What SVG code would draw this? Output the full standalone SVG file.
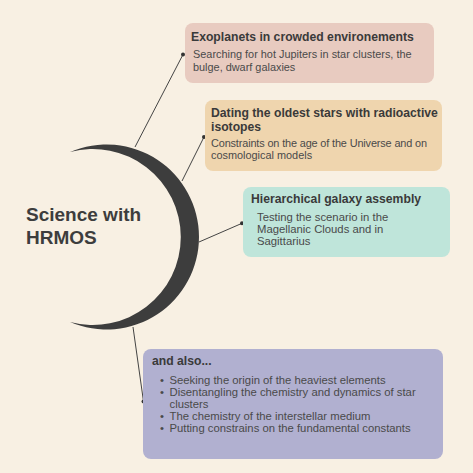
<svg xmlns="http://www.w3.org/2000/svg" width="473" height="473" viewBox="0 0 473 473">
<style>
.t{font-family:"Liberation Sans",Arial,sans-serif;font-weight:bold;font-size:12.2px;fill:#3a3a3a}
.b{font-family:"Liberation Sans",Arial,sans-serif;font-size:11.3px;fill:#4a4a4a}
.s{font-size:10.9px}
.c{stroke:#444;stroke-width:1;fill:none}
.d{fill:#333}
</style>
<rect width="473" height="473" fill="#f8f0e3"/>
<g id="center">
<path d="M70,152 A92.5,92.5 0 1,1 70,322 A88,88 0 1,0 70,152 Z" fill="#3d3d3d"/>
<text x="26" y="221" font-family="Liberation Sans,Arial,sans-serif" font-weight="bold" font-size="19" fill="#3d3d3d">Science with</text>
<text x="26" y="244" font-family="Liberation Sans,Arial,sans-serif" font-weight="bold" font-size="19" fill="#3d3d3d">HRMOS</text>
</g>
<g id="connectors">
<line class="c" x1="135" y1="147" x2="183" y2="54.5"/>
<circle class="d" cx="183" cy="54.5" r="2"/>
<line class="c" x1="182" y1="181" x2="204" y2="137"/>
<circle class="d" cx="204" cy="137" r="2"/>
<line class="c" x1="199" y1="242" x2="242" y2="223.3"/>
<circle class="d" cx="242" cy="223.3" r="2"/>
<line class="c" x1="133" y1="327" x2="143.5" y2="401.5"/>
<circle class="d" cx="143.5" cy="401.5" r="2"/>
</g>
<g id="box1">
<rect x="185" y="23" width="249" height="60" rx="8" fill="#e8cbc0"/>
<text class="t" x="191" y="41">Exoplanets in crowded environements</text>
<text class="b s" x="193" y="58">Searching for hot Jupiters in star clusters, the</text>
<text class="b s" x="193" y="71">bulge, dwarf galaxies</text>
</g>
<g id="box2">
<rect x="205" y="100" width="237" height="71" rx="8" fill="#efd5ae"/>
<text class="t" x="211" y="117">Dating the oldest stars with radioactive</text>
<text class="t" x="211" y="131">isotopes</text>
<text class="b s" x="211" y="147" textLength="216" lengthAdjust="spacing">Constraints on the age of the Universe and on</text>
<text class="b s" x="211" y="159">cosmological models</text>
</g>
<g id="box3">
<rect x="243" y="187" width="207" height="70" rx="8" fill="#bfe5da"/>
<text class="t" x="251" y="203">Hierarchical galaxy assembly</text>
<text class="b" x="257" y="221">Testing the scenario in the</text>
<text class="b" x="257" y="233">Magellanic Clouds and in</text>
<text class="b" x="257" y="245">Sagittarius</text>
</g>
<g id="box4">
<rect x="143" y="349" width="300" height="110" rx="8" fill="#b1b0d0"/>
<text class="t" x="152" y="365">and also...</text>
<g class="b">
<text x="160" y="384">•</text><text x="169.5" y="384">Seeking the origin of the heaviest elements</text>
<text x="160" y="396">•</text><text x="169.5" y="396">Disentangling the chemistry and dynamics of star</text>
<text x="169.5" y="408">clusters</text>
<text x="160" y="420">•</text><text x="169.5" y="420">The chemistry of the interstellar medium</text>
<text x="160" y="432">•</text><text x="169.5" y="432">Putting constrains on the fundamental constants</text>
</g>
</g>
</svg>
